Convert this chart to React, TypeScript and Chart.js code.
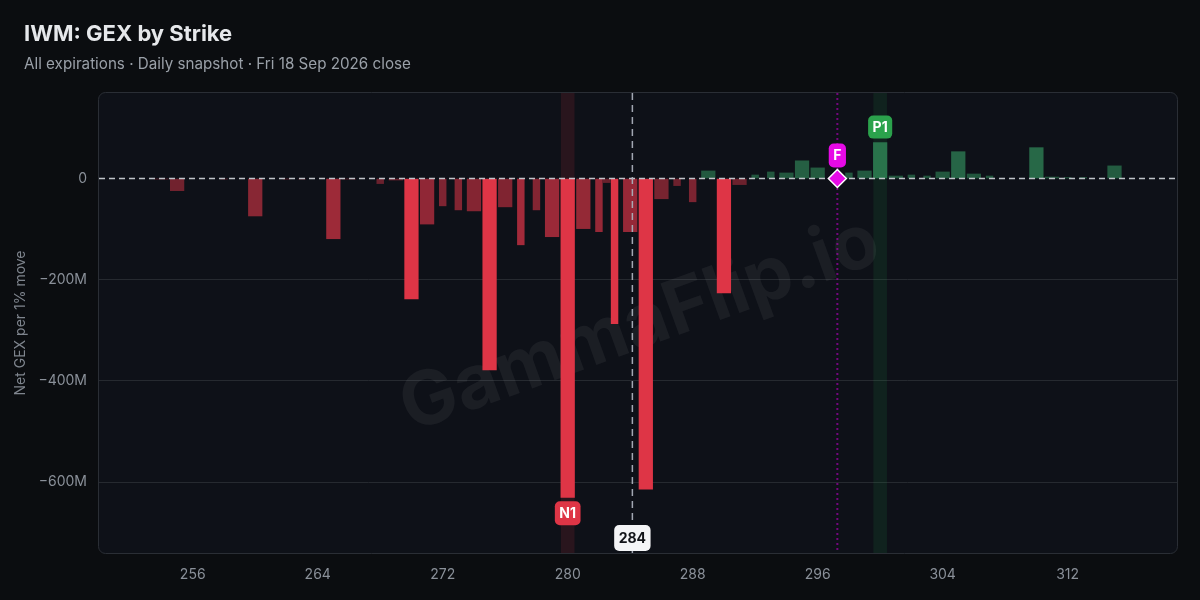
import React, { useEffect, useRef } from "react";
import { Chart, registerables } from "chart.js";

Chart.register(...registerables);

// ---- data ----
const strikes = [
  254, 255, 258, 260, 262, 263, 265, 266, 268, 269,
  270, 271, 272, 273, 274, 275, 276, 277, 278, 279, 280, 281, 282, 282.5,
  283, 284, 285, 286, 287, 288, 289, 290, 291, 292, 293, 294, 295, 296,
  298, 299, 300, 301, 302, 303, 304, 305, 306, 307,
  310, 311, 312, 313, 315,
];
const netGexM = [
  -1, -24, -1, -74, -1, -1, -119, -1, -10, -3,
  -238, -90, -54, -62, -64, -378, -56, -131, -62, -115, -630, -99, -105, -8,
  -287, -105, -614, -40, -14, -46, 15, -226, -12, 7, 13, 11, 35, 21,
  11, 15, 71, 5, 7, 5, 13, 53, 9, 5,
  61, 3, 2, 2, 25,
];
const xTicks = [256, 264, 272, 280, 288, 296, 304, 312];
const yTicks = [0, -200, -400, -600];
const spotPrice = 284.14;
const flipPoint = 297.26;
const xMin = 250;
const xMax = 319;
const yMin = -740;
const yMax = 169;

const titleText = "IWM: GEX by Strike";
const subtitleText = "All expirations · Daily snapshot · Fri 18 Sep 2026 close";
const yAxisTitle = "Net GEX per 1% move";
const watermarkText = "GammaFlip.io";

// ---- styling helpers ----
const FONT = "Inter, 'Noto Sans', sans-serif";
const RED = "rgb(222,53,70)";
const GREEN_LABEL = "#2ba24c";
const MAGENTA = "#e60ae6";
const WIDE = 13.6;
const NARROW = 6.8;

function isWide(s: number) {
  const m = ((s % 5) + 5) % 5;
  return m === 0 || m === 1 || m === 4;
}

function barColor(v: number) {
  const a = Math.abs(v);
  if (v < 0) {
    if (a >= 200) return RED;
    const al = Math.min(0.75, 0.42 + 0.0022 * a);
    return `rgba(224,54,72,${al})`;
  }
  const al = Math.min(0.8, 0.42 + 0.0022 * a);
  return `rgba(60,175,110,${al})`;
}

const points = strikes.map((s, i) => ({ x: s, y: netGexM[i] }));
const widePts = points.filter((p) => isWide(p.x));
const narrowPts = points.filter((p) => !isWide(p.x));

let n1 = points[0];
let p1 = points[0];
points.forEach((p) => {
  if (p.y < n1.y) n1 = p;
  if (p.y > p1.y) p1 = p;
});

function pill(
  ctx: CanvasRenderingContext2D,
  cx: number,
  y: number,
  text: string,
  bg: string,
  fg: string,
  anchor: "top" | "bottom",
  h = 23
) {
  ctx.save();
  ctx.font = `bold 14px ${FONT}`;
  const w = ctx.measureText(text).width + 9;
  const top = anchor === "top" ? y : y - h;
  ctx.fillStyle = bg;
  ctx.beginPath();
  (ctx as any).roundRect(cx - w / 2, top, w, h, 5);
  ctx.fill();
  ctx.fillStyle = fg;
  ctx.textAlign = "center";
  ctx.textBaseline = "middle";
  ctx.fillText(text, cx, top + h / 2 + 0.5);
  ctx.restore();
}

const decor = {
  id: "decor",
  beforeDraw(chart: any) {
    const { ctx, chartArea: ca } = chart;
    ctx.save();
    ctx.beginPath();
    ctx.roundRect(ca.left - 0.5, ca.top - 0.5, ca.right - ca.left + 1, ca.bottom - ca.top + 1, 7);
    ctx.fillStyle = "#0e1118";
    ctx.fill();
    ctx.strokeStyle = "#2a2e35";
    ctx.lineWidth = 1;
    ctx.stroke();
    ctx.restore();
  },
  beforeDatasetsDraw(chart: any) {
    const { ctx, chartArea: ca, scales } = chart;
    const xs = scales.x;
    ctx.save();
    ctx.beginPath();
    ctx.rect(ca.left, ca.top, ca.right - ca.left, ca.bottom - ca.top);
    ctx.clip();
    // bands
    const nx = xs.getPixelForValue(n1.x);
    ctx.fillStyle = "rgba(224,54,72,0.13)";
    ctx.fillRect(nx - WIDE / 2, ca.top, WIDE, ca.bottom - ca.top);
    const px = xs.getPixelForValue(p1.x);
    ctx.fillStyle = "rgba(40,170,80,0.11)";
    ctx.fillRect(px - WIDE / 2, ca.top, WIDE, ca.bottom - ca.top);
    // watermark
    ctx.translate((ca.left + ca.right) / 2 + 2, (ca.top + ca.bottom) / 2 + 2);
    ctx.rotate(-20 * Math.PI / 180);
    ctx.font = `bold 75px ${FONT}`;
    ctx.fillStyle = "rgba(255,255,255,0.055)";
    ctx.textAlign = "center";
    ctx.textBaseline = "middle";
    ctx.fillText(watermarkText, 0, 0);
    ctx.restore();
  },
  afterDatasetsDraw(chart: any) {
    const { ctx, chartArea: ca, scales } = chart;
    const xs = scales.x;
    const ys = scales.y;
    const y0 = ys.getPixelForValue(0);
    ctx.save();
    // zero line
    ctx.beginPath();
    ctx.setLineDash([6, 4]);
    ctx.lineWidth = 1.5;
    ctx.strokeStyle = "rgba(212,216,222,0.9)";
    ctx.moveTo(ca.left, y0);
    ctx.lineTo(ca.right, y0);
    ctx.stroke();
    // spot line
    const sx = xs.getPixelForValue(spotPrice);
    ctx.beginPath();
    ctx.setLineDash([7, 5]);
    ctx.lineWidth = 1.5;
    ctx.strokeStyle = "rgba(170,176,186,0.95)";
    ctx.moveTo(sx, ca.top);
    ctx.lineTo(sx, ca.bottom);
    ctx.stroke();
    // flip line
    const fx = xs.getPixelForValue(flipPoint);
    ctx.beginPath();
    ctx.setLineDash([2, 3]);
    ctx.lineWidth = 2;
    ctx.strokeStyle = "rgba(200,0,210,0.55)";
    ctx.moveTo(fx, ca.top);
    ctx.lineTo(fx, ca.bottom);
    ctx.stroke();
    ctx.setLineDash([]);
    // diamond
    const d = 9;
    ctx.beginPath();
    ctx.moveTo(fx, y0 - d);
    ctx.lineTo(fx + d, y0);
    ctx.lineTo(fx, y0 + d);
    ctx.lineTo(fx - d, y0);
    ctx.closePath();
    ctx.fillStyle = MAGENTA;
    ctx.fill();
    ctx.lineWidth = 1.5;
    ctx.strokeStyle = "#ffffff";
    ctx.stroke();
    ctx.restore();

    // labels
    pill(ctx, fx, y0 - d - 2, "F", MAGENTA, "#ffffff", "bottom", 24);
    pill(ctx, xs.getPixelForValue(p1.x), ys.getPixelForValue(p1.y) - 4, "P1", GREEN_LABEL, "#ffffff", "bottom");
    pill(ctx, xs.getPixelForValue(n1.x), ys.getPixelForValue(n1.y) + 4, "N1", RED, "#ffffff", "top", 24);
    pill(ctx, sx, ca.bottom - 2, spotPrice.toFixed(0), "#f4f5f7", "#111318", "bottom", 26);
  },
};

export default function App() {
  const canvasRef = useRef<HTMLCanvasElement | null>(null);

  useEffect(() => {
    const canvas = canvasRef.current;
    if (!canvas) return;
    const chart = new Chart(canvas, {
      type: "bar",
      data: {
        datasets: [
          {
            label: "wide",
            data: widePts as any,
            backgroundColor: (c: any) => barColor(c.raw ? c.raw.y : 0),
            borderWidth: 0,
            barThickness: WIDE,
            grouped: false,
          } as any,
          {
            label: "narrow",
            data: narrowPts as any,
            backgroundColor: (c: any) => barColor(c.raw ? c.raw.y : 0),
            borderWidth: 0,
            barThickness: NARROW,
            grouped: false,
          } as any,
        ],
      },
      options: {
        animation: false,
        responsive: true,
        maintainAspectRatio: false,
        events: [],
        layout: { padding: { top: 93, right: 23, bottom: 0, left: 0 } },
        plugins: {
          legend: { display: false },
          tooltip: { enabled: false },
          title: { display: false },
        },
        scales: {
          x: {
            type: "linear",
            min: xMin,
            max: xMax,
            offset: false,
            grid: { display: false, offset: false },
            border: { display: false },
            afterBuildTicks: (s: any) => {
              s.ticks = xTicks.map((v) => ({ value: v }));
            },
            afterFit: (s: any) => {
              s.height = 47;
            },
            ticks: {
              color: "#8a9099",
              font: { family: FONT, size: 14 },
              padding: 5,
              maxRotation: 0,
              autoSkip: false,
              callback: (v: any) => String(v),
            },
          },
          y: {
            type: "linear",
            min: yMin,
            max: yMax,
            afterBuildTicks: (s: any) => {
              s.ticks = yTicks.map((v) => ({ value: v }));
            },
            afterFit: (s: any) => {
              s.width = 99;
            },
            grid: {
              drawTicks: false,
              color: (c: any) => (c.tick && c.tick.value === 0 ? "rgba(0,0,0,0)" : "#262a30"),
              lineWidth: 1,
            },
            border: { display: false },
            ticks: {
              color: "#8a9099",
              font: { family: FONT, size: 14 },
              padding: 12,
              callback: (v: any) => (v === 0 ? "0" : (v < 0 ? "\u2212" : "") + Math.abs(v) + "M"),
            },
            title: {
              display: true,
              text: yAxisTitle,
              color: "#7f858e",
              font: { family: FONT, size: 14 },
              padding: { top: 12, bottom: 0 },
            },
          },
        },
      } as any,
      plugins: [decor as any],
    });
    return () => chart.destroy();
  }, []);

  return (
    <div
      style={{
        position: "fixed",
        left: 0,
        top: 0,
        width: 1200,
        height: 600,
        background: "#0b0d10",
        overflow: "hidden",
        fontFamily: FONT,
      }}
    >
      <div style={{ position: "absolute", left: 0, top: 0, width: 1200, height: 600 }}>
        <canvas ref={canvasRef} />
      </div>
      <div
        style={{
          position: "absolute",
          left: 24,
          top: 20,
          fontSize: 22,
          lineHeight: "26px",
          fontWeight: 700,
          color: "#e6e8eb",
          whiteSpace: "nowrap",
        }}
      >
        {titleText}
      </div>
      <div
        style={{
          position: "absolute",
          left: 24,
          top: 55,
          fontSize: 15.2,
          lineHeight: "18px",
          fontWeight: 400,
          color: "#9aa0a8",
          whiteSpace: "nowrap",
        }}
      >
        {subtitleText}
      </div>
    </div>
  );
}
